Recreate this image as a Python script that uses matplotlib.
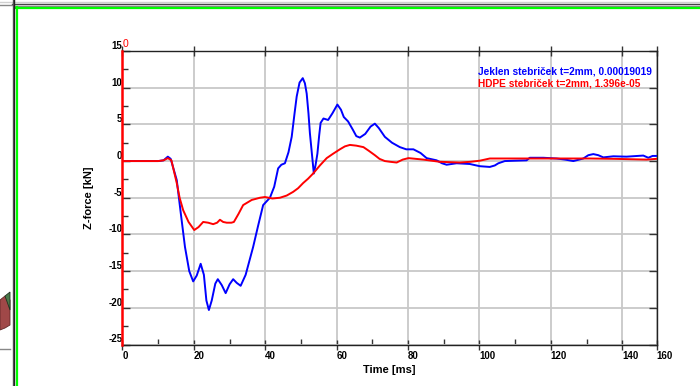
import matplotlib
matplotlib.use("Agg")
import matplotlib.pyplot as plt
from matplotlib.lines import Line2D
from matplotlib.patches import Polygon
import numpy as np

# blue curve: steel post
steel_t = [0, 10, 11.5, 12.7, 13.5, 15.2, 16.3, 17.5, 18.7, 19.8, 20.8, 21.9, 22.8, 23.5,
           24.2, 25.0, 26.0, 26.7, 27.8, 28.9, 30.0, 31.0, 32.0, 33.1, 34.5, 36.6, 38.0,
           39.4, 41.3, 42.5, 43.6, 44.5, 45.5, 46.5, 47.4, 48.2, 48.8, 49.6, 50.5, 51.1,
           51.6, 52.1, 52.5, 53.1, 53.6, 54.1, 54.6, 55.1, 55.5, 56.3, 57.6, 58.8, 60.2,
           61.2, 62.0, 63.2, 64.5, 65.5, 66.5, 68.0, 69.5, 70.7, 71.8, 73.5, 75.5, 77.7,
           79.5, 81.5, 83.5, 85.2, 88.0, 89.5, 90.8, 93.6, 97.3, 100.1, 102.9, 104.3,
           105.3, 107.1, 110.0, 113.2, 114.1, 117.9, 121.6, 124.0, 126.3, 129.1, 130.5,
           131.9, 133.3, 134.7, 137.5, 141.2, 145.9, 147.3, 148.5, 149.6]
steel_f = [0, 0, 0.1, 0.6, 0.3, -2.6, -7.0, -11.7, -15.0, -16.4, -15.6, -14.0, -15.5, -19.0,
           -20.3, -19.0, -16.7, -16.1, -16.9, -18.0, -16.8, -16.1, -16.6, -17.0, -15.5,
           -11.7, -8.8, -6.0, -5.0, -3.5, -1.0, -0.5, -0.3, 1.2, 3.3, 6.5, 8.8, 10.7, 11.3,
           10.6, 9.2, 6.5, 3.8, 0.8, -1.7, -0.5, 1.0, 3.5, 5.2, 5.8, 5.6, 6.5, 7.7, 7.0,
           6.0, 5.4, 4.3, 3.4, 3.2, 3.7, 4.7, 5.1, 4.5, 3.3, 2.5, 1.9, 1.6, 1.6, 1.1, 0.4,
           0.1, -0.3, -0.5, -0.3, -0.4, -0.7, -0.8, -0.6, -0.3, 0.0, 0.05, 0.1, 0.45, 0.45,
           0.35, 0.2, 0.0, 0.35, 0.8, 0.95, 0.8, 0.5, 0.65, 0.6, 0.75, 0.45, 0.7, 0.7]

# red curve: HDPE post
hdpe_t = [0, 10, 11.5, 12.7, 13.7, 15.2, 16.0, 17.0, 18.5, 20.1, 21.3, 22.6, 24.0, 25.4,
          26.5, 27.3, 28.2, 29.2, 30.5, 31.2, 32.5, 33.8, 36.2, 38.5, 39.9, 42.0, 44.1,
          46.0, 47.8, 49.2, 50.6, 52.0, 53.4, 55.3, 57.2, 59.0, 60.9, 62.3, 63.7, 65.5,
          67.5, 69.0, 70.7, 72.0, 73.5, 75.0, 76.8, 78.5, 80.1, 84.3, 88.9, 94.5, 97.5,
          100.1, 102.9, 110.0, 116.9, 124.0, 131.0, 138.0, 146.8, 149.6]
hdpe_f = [0, 0, 0.1, 0.4, 0.1, -3.0, -5.0, -6.7, -8.3, -9.4, -9.0, -8.3, -8.4, -8.6,
          -8.4, -8.0, -8.3, -8.4, -8.4, -8.3, -7.2, -6.0, -5.3, -5.0, -4.9, -5.1, -5.0,
          -4.7, -4.2, -3.7, -3.0, -2.4, -1.7, -0.6, 0.4, 1.0, 1.6, 2.0, 2.2, 2.1,
          1.9, 1.4, 0.8, 0.3, 0.0, -0.1, -0.2, 0.2, 0.4, 0.2, -0.1, -0.2, -0.1,
          0.05, 0.35, 0.35, 0.35, 0.35, 0.35, 0.3, 0.2, 0.3]

steel_label = "Jeklen stebriček t=2mm, 0.00019019"
hdpe_label = "HDPE stebriček t=2mm, 1.396e-05"

x_ticks = [0, 20, 40, 60, 80, 100, 120, 140, 149.6]
x_tick_labels = ["0", "20", "40", "60", "80", "100", "120", "140", "160"]
y_ticks = [-25, -20, -15, -10, -5, 0, 5, 10, 15]
y_tick_labels = ["-25", "-20", "-15", "-10", "-5", "0", "5", "10", "15"]

plt.rcParams["font.family"] = ["Liberation Sans", "DejaVu Sans"]
plt.rcParams["font.weight"] = "bold"

W, H = 700, 386
fig = plt.figure(figsize=(W / 100, H / 100), dpi=100)


def fx(x):
    return x / W


def fy(y):
    return 1 - y / H


ax = fig.add_axes([fx(122.5), fy(344.5), fx(656.5) - fx(122.5), fy(51) - fy(344.5)])

ax.plot(steel_t, steel_f, color="#0000ff", lw=1.4, zorder=3)
ax.plot(hdpe_t, hdpe_f, color="#ff0000", lw=1.4, zorder=3)

ax.set_xlim(0, x_ticks[-1])
ax.set_ylim(-25, 15)

ax.set_xticks(x_ticks)
ax.set_xticklabels(x_tick_labels, ha="left", fontsize=7, fontweight="bold")
ax.set_yticks(y_ticks)
ax.set_yticklabels(y_tick_labels, va="bottom", fontsize=7, fontweight="bold")
ax.set_xticks(np.arange(10, 150, 20), minor=True)
ax.set_yticks(np.arange(-22.5, 15, 5), minor=True)

ax.tick_params(axis="x", which="major", direction="inout", length=7, width=1,
               color="#333333", pad=1, top=True)
ax.tick_params(axis="x", which="minor", direction="in", length=4, width=1,
               color="#333333", top=False)
ax.tick_params(axis="y", which="major", direction="in", length=6, width=1,
               color="#333333", pad=0, right=True)
ax.tick_params(axis="y", which="minor", direction="in", length=4, width=1,
               color="#333333", right=False)

ax.grid(True, which="major", color="#c8c8c8", lw=1.3, zorder=0)
ax.set_axisbelow(True)

for side in ["top", "right", "bottom"]:
    ax.spines[side].set_color("#222222")
    ax.spines[side].set_linewidth(1.0)
ax.spines["left"].set_color("#ff0000")
ax.spines["left"].set_linewidth(1.8)
ax.spines["left"].set_zorder(4)

ax.set_xlabel("Time [ms]", fontsize=8, fontweight="bold", labelpad=3)
ax.set_ylabel("Z-force [kN]", fontsize=8, fontweight="bold", labelpad=10)

fig.text(fx(122.5), fy(49), "0", color="#ff0000", fontsize=7.5, fontweight="normal",
         ha="left", va="bottom")

fig.text(fx(478), fy(71.5), steel_label, color="#0000ff", fontsize=7.3,
         fontweight="bold", ha="left", va="center")
fig.text(fx(478), fy(83.5), hdpe_label, color="#ff0000", fontsize=7.3,
         fontweight="bold", ha="left", va="center")

# window frame of the screenshot
frame = [
    ((0, 700), (1.5, 1.5), "#d0d0d0", 1.0),
    ((12, 700), (3.5, 3.5), "#444444", 1.0),
    ((0, 14), (4.5, 4.5), "#888888", 1.0),
    ((14, 700), (5.5, 5.5), "#888888", 1.0),
    ((16, 700), (7.5, 7.5), "#00ff00", 1.6),
    ((12.5, 12.5), (0, 386), "#555555", 1.0),
    ((14.5, 14.5), (0, 386), "#222222", 1.0),
    ((16.5, 16.5), (7, 386), "#00ff00", 1.6),
    ((0, 10), (349, 349), "#888888", 1.0),
]
for xs, ys, c, lw in frame:
    fig.add_artist(Line2D([fx(v) for v in xs], [fy(v) for v in ys], color=c, lw=lw,
                          transform=fig.transFigure))

blob = Polygon([(fx(0), fy(300)), (fx(5), fy(296)), (fx(10), fy(300)), (fx(10), fy(325)),
                (fx(5), fy(328)), (fx(0), fy(330))], closed=True,
               facecolor="#a04848", edgecolor="#602828", lw=0.6, transform=fig.transFigure)
leaf = Polygon([(fx(5), fy(296)), (fx(10), fy(292)), (fx(10), fy(310))], closed=True,
               facecolor="#4a7a4a", edgecolor="#203020", lw=0.6, transform=fig.transFigure)
fig.add_artist(blob)
fig.add_artist(leaf)

fig.savefig("out.png", dpi=100)
